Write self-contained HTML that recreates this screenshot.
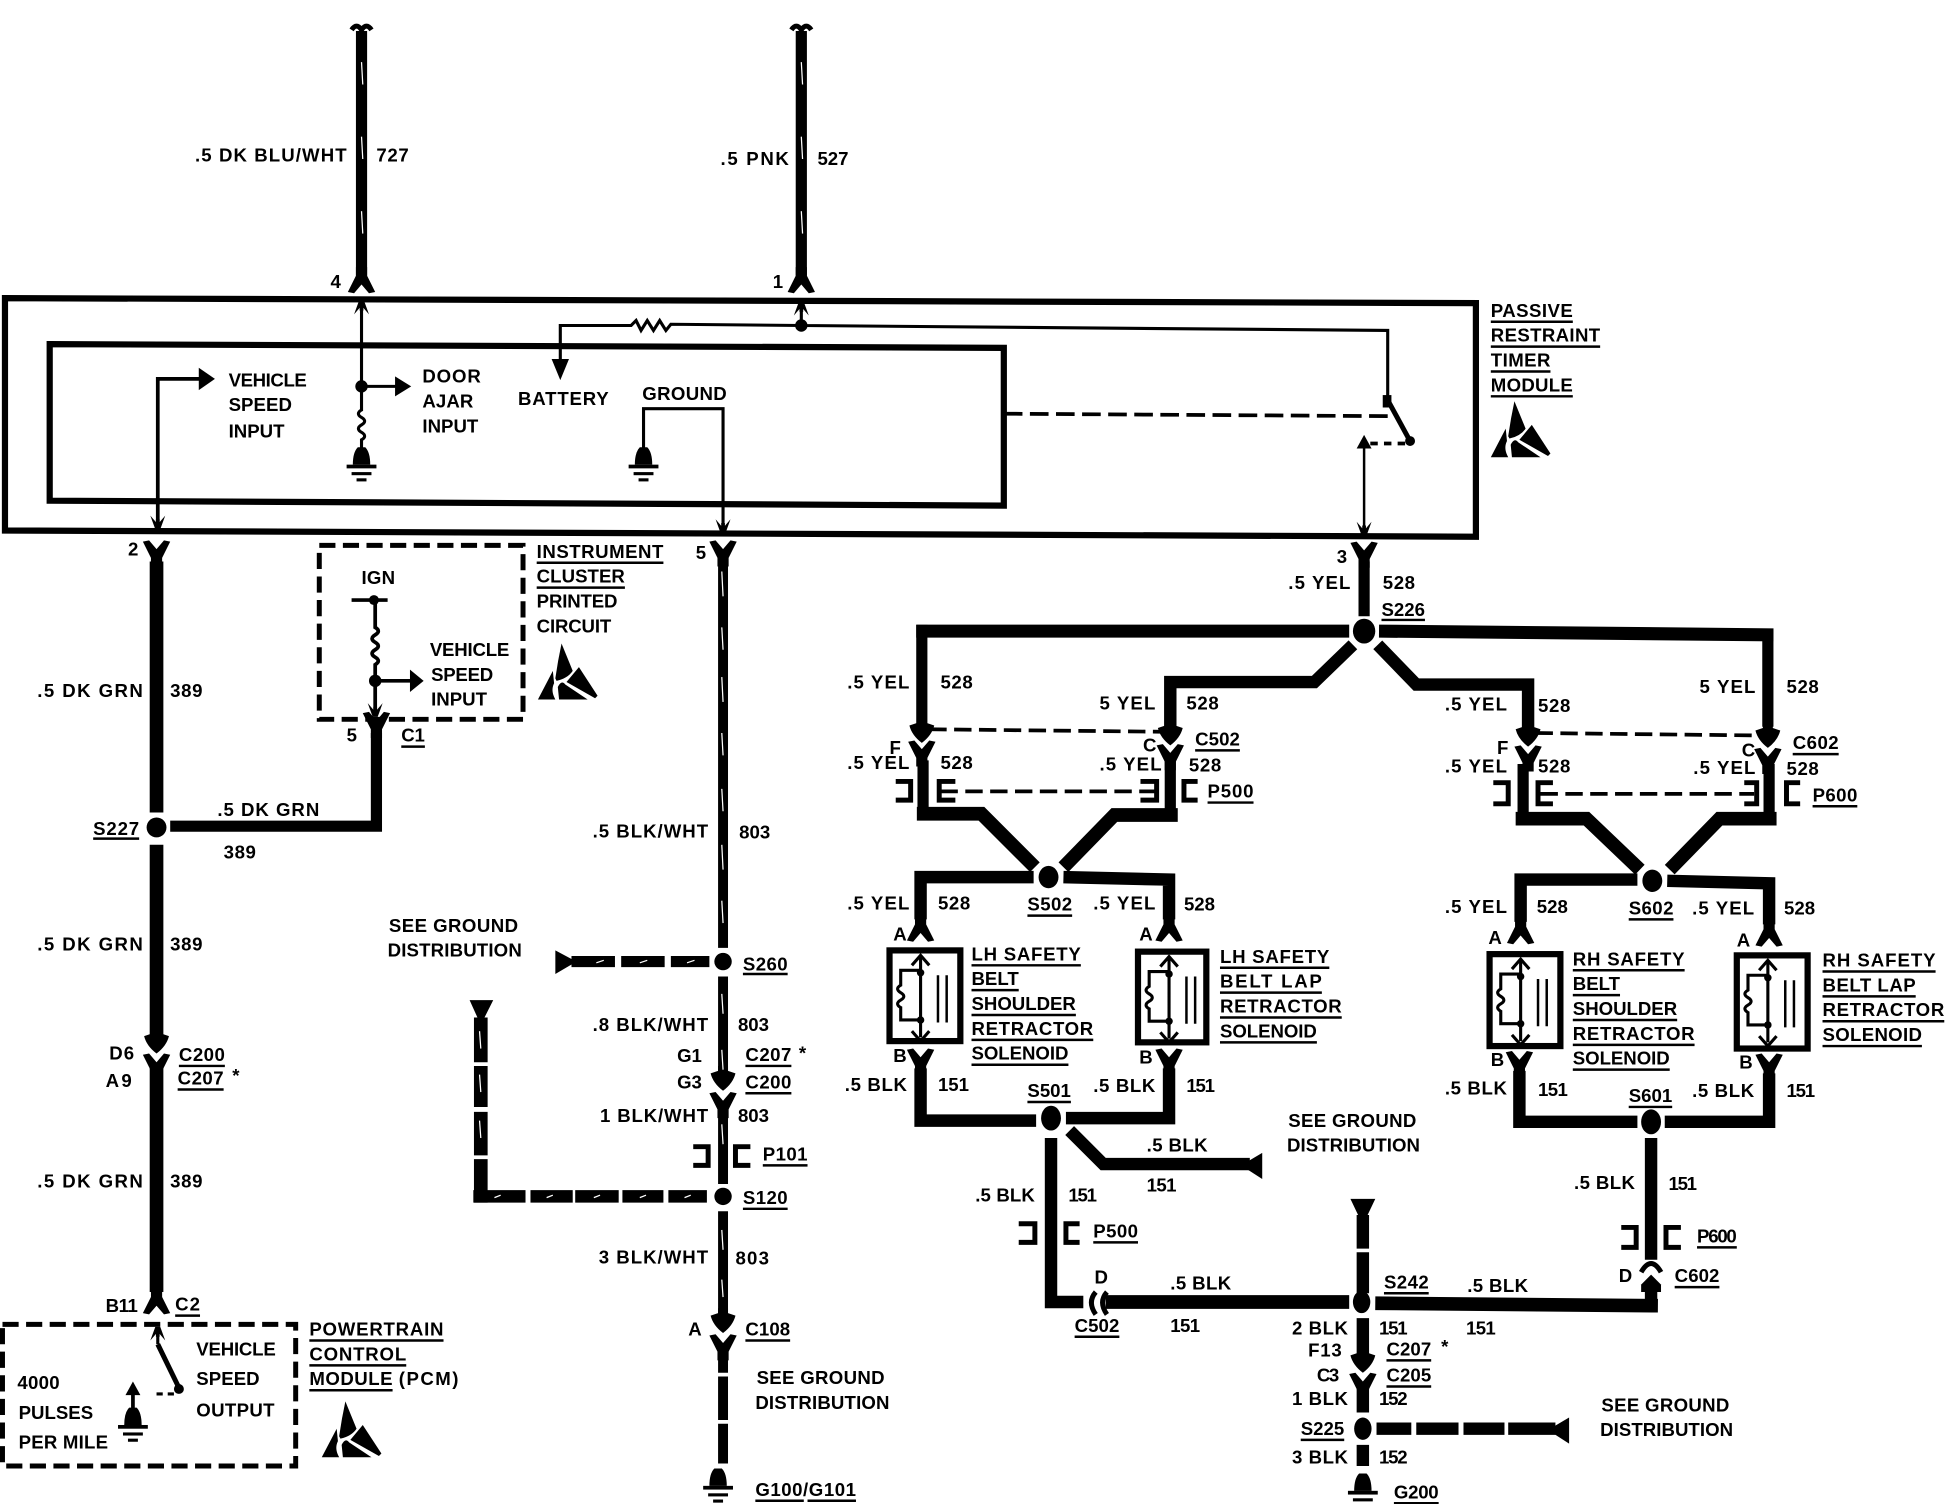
<!DOCTYPE html>
<html><head><meta charset="utf-8"><title>Passive Restraint Wiring Diagram</title>
<style>
html,body{margin:0;padding:0;background:#fff}
svg{display:block}
text{font-family:"Liberation Sans",sans-serif;font-size:15px;font-weight:bold;fill:#000}
.w{fill:none;stroke:#000;stroke-linejoin:miter}
</style></head><body>
<svg width="1948" height="1504" viewBox="0 0 1568 1210.6" preserveAspectRatio="none" xmlns="http://www.w3.org/2000/svg">
<defs>
<path id="yu" d="M-11,0 L-6,-1 L0,6 L6,-1 L11,0 L4.5,13 L4.5,20 L-4.5,20 L-4.5,13Z"/>
<path id="yd" d="M-11,0 L-6,1 L0,-6 L6,1 L11,0 L4.5,-13 L4.5,-20 L-4.5,-20 L-4.5,-13Z"/>
<path id="ah" d="M-4,-12 L4,-12 L4,-8 L10,-6 Q8,2 0,8 Q-8,2 -10,-6 L-4,-8Z"/>
<path id="tad" d="M-6,-11 L0,-4 L6,-11 L2,0 L-2,0Z M-1.5,-8 H1.5 V-2 H-1.5Z"/>
<path id="tau" d="M-6,11 L0,4 L6,11 L2,0 L-2,0Z M-1.5,8 H1.5 V2 H-1.5Z"/>
<g id="gnd"><path d="M-3,0 Q-7,4 -7,14 H7 Q7,4 3,0Z"/><rect x="-12" y="14" width="24" height="3"/><rect x="-8" y="20" width="16" height="2.5"/><rect x="-4" y="25" width="8" height="2.5"/></g>
<g id="esd"><path d="M19,0 L28,22 Q24,28 15,30 L14,28 Q16,14 19,0Z"/><path d="M0,45 L12,22 L13,32 Q10,38 14,45Z"/><path d="M17,45 L16,35 Q19,29 22,33 L40,45Z"/><path d="M23,31 L33,19 L48,42 L46,44Z"/></g>
<g id="sol"><path class="w" stroke-width="2.5" d="M26,5 V70 M26,16 H10 V28 q-5,3 0,6 q5,3 0,6 q-5,3 0,6 V56 H26"/><path class="w" stroke-width="2" d="M40,20 V58 M47,20 V58"/><path class="w" stroke-width="2.5" d="M19,12 L26,4 L33,12 M19,65 L26,73 L33,65"/><circle cx="26" cy="18" r="3"/><circle cx="26" cy="56" r="3"/></g>
</defs>

<!-- Outer and inner module boxes -->
<path class="w" stroke-width="5" d="M4,240 L1188,244 L1188,432 L4,427Z"/>
<path class="w" stroke-width="5" d="M40,277 L808,280 L808,407 L40,403Z"/>

<!-- Top wires -->
<path class="w" stroke-width="9" d="M291,25 V222 M645,25 V222"/>
<path class="w" stroke-width="4" d="M283,24 q4,-6 8,0 q4,-6 8,0 M637,24 q4,-6 8,0 q4,-6 8,0"/>
<use href="#yd" x="291" y="235"/><use href="#yd" x="645" y="235"/>

<!-- Thin internal circuit -->
<path class="w" stroke-width="2.5" d="M291,242 V330 q-5,3 0,6 q5,3 0,6 q-5,3 0,6 q5,3 0,6 V365 M291,311 H320"/>
<use href="#tau" x="291" y="252" transform="translate(0,-10)"/>
<circle cx="291" cy="311" r="5"/><path d="M318,303 L331,311 L318,319Z"/>
<use href="#gnd" x="291" y="360"/>
<path class="w" stroke-width="2.5" d="M645,245 V262 M451,300 V262 H508 l4,-4 l4,8 l5,-8 l5,8 l5,-8 l5,8 l4,-5 L645,262 L1117,266 V322"/>
<use href="#tau" x="645" y="243" transform="translate(0,0)"/>
<circle cx="645" cy="262" r="5"/><path d="M444,289 L458,289 L451,306Z"/>
<path class="w" stroke-width="3" d="M127,422 V305 H165"/>
<path d="M160,296 L173,305 L160,314Z"/><use href="#tad" x="127" y="426"/>
<path class="w" stroke-width="2.5" d="M518,365 V329 H582 V425"/>
<use href="#gnd" x="518" y="360"/><use href="#tad" x="582" y="429"/>
<path class="w" stroke-width="3" stroke-dasharray="15 6" d="M808,333 L1122,335"/>
<path class="w" stroke-width="4" d="M1117,322 L1135,355"/>
<path d="M1113,318 h7 v10 h-7Z"/><circle cx="1135" cy="355" r="4"/>
<path class="w" stroke-width="3" stroke-dasharray="6 5" d="M1131,357 H1101"/>
<path d="M1098,350 L1104,361 H1092Z"/>
<path class="w" stroke-width="2" d="M1098,358 V428"/><use href="#tad" x="1098" y="431"/>

<!-- 389 wire -->
<use href="#yu" x="126" y="436"/>
<path class="w" stroke-width="11" d="M126,452 V654 M126,680 V835 M126,858 V1040"/>
<use href="#ah" x="126" y="840"/><use href="#yu" x="126" y="849"/>
<use href="#yd" x="126" y="1057"/>
<circle cx="126" cy="666" r="8"/>
<path class="w" stroke-width="9" d="M137,665 H303 V590"/><use href="#yu" x="303" y="574"/>

<!-- Instrument cluster -->
<path class="w" stroke-width="4" stroke-dasharray="13 6" d="M257,439 H421 V579 H257Z"/>
<path class="w" stroke-width="3" d="M283,483 H312 M302,483 V505 q5,3 0,6 q-5,3 0,6 q5,3 0,6 q-5,3 0,6 q5,3 0,6 V572 M302,548 H332"/>
<circle cx="301" cy="483" r="4"/><circle cx="302" cy="548" r="5"/>
<path d="M330,539 L341,548 L330,557Z"/><use href="#tad" x="302" y="577"/>

<!-- 803 wire -->
<use href="#yu" x="582" y="436"/>
<path class="w" stroke-width="8" d="M582,452 V763 M582,786 V868 M582,890 V953 M582,975 V1058 M582,1085 V1105 M582,1108 V1143 M582,1146 V1178"/>
<use href="#ah" x="582" y="870"/><use href="#yu" x="582" y="880"/>
<use href="#ah" x="582" y="1065"/><use href="#yu" x="582" y="1075"/>
<circle cx="582" cy="774" r="7"/><circle cx="582" cy="963" r="7"/>
<use href="#gnd" x="578" y="1182"/>
<path class="w" stroke-width="1" style="stroke:#fff" d="M581,460 l1,20 M581,505 l1,18 M581,545 l1,20 M581,590 l1,18 M581,635 l1,18 M581,680 l1,20 M581,725 l1,18 M581,800 l1,16 M581,845 l1,16 M581,905 l1,16 M581,990 l1,16 M581,1030 l1,14 M291,50 l1,18 M291,110 l1,18 M291,170 l1,18 M645,50 l1,18 M645,110 l1,18 M645,170 l1,18"/>

<!-- Ground distribution dashes -->
<path d="M447,765 L447,784 L464,774Z"/>
<path class="w" stroke-width="9" d="M460,774 H495 M500,774 H535 M540,774 H571"/>
<path d="M378,805 L397,805 L387,825Z"/>
<path class="w" stroke-width="11" d="M387,819 V855 M387,858 V891 M387,895 V930 M387,933 V968"/>
<path class="w" stroke-width="10" d="M381,963 H423 M427,963 H461 M463,963 H498 M501,963 H534 M538,963 H569"/>
<path class="w" stroke-width="1" style="stroke:#fff" d="M386,830 l1,14 M386,865 l1,14 M386,902 l1,14 M398,964 l5,-2 M440,964 l5,-2 M478,964 l5,-2 M515,964 l5,-2 M551,964 l5,-2 M480,775 l6,-2 M515,775 l6,-2 M553,775 l6,-2"/>
<path class="w" stroke-width="4" d="M558,923 H570 V938 H558 M604,923 H592 V938 H604"/>

<!-- PCM -->
<path class="w" stroke-width="4" stroke-dasharray="13 6" d="M2,1066 H238 V1180 H2Z"/>
<use href="#tau" x="127" y="1068"/>
<path class="w" stroke-width="2.5" d="M127,1072 V1082"/>
<path class="w" stroke-width="4" d="M127,1082 L144,1117"/>
<circle cx="144" cy="1118" r="4"/>
<path class="w" stroke-width="2.5" stroke-dasharray="5 4" d="M140,1122 H122"/>
<path d="M107,1112 L113,1123 H101Z"/><path class="w" stroke-width="3" d="M107,1120 V1135"/>
<use href="#gnd" x="107" y="1133"/>

<!-- 528 yellow wires -->
<use href="#yu" x="1098" y="437"/>
<path class="w" stroke-width="9" d="M1098,452 V496"/>
<path class="w" stroke-width="10.5" d="M1086,508 H737.5"/>
<path class="w" stroke-width="9" d="M742,503 V585"/>
<path class="w" stroke-width="10.5" d="M1110,508 L1427.5,511"/>
<path class="w" stroke-width="9" d="M1423,506 V585"/>
<ellipse cx="1098" cy="508" rx="9" ry="10"/>
<path class="w" stroke-width="10" d="M1089,519 L1058,549 H942 V585"/>
<path class="w" stroke-width="10" d="M1109,519 L1140,551 H1230 V587"/>
<path class="w" stroke-width="3" stroke-dasharray="14 6" d="M748,587 L935,589 M1236,590 L1417,592"/>
<use href="#ah" x="742" y="590"/><use href="#yu" x="742" y="597"/>
<use href="#ah" x="942" y="592"/><use href="#yu" x="942" y="600"/>
<use href="#ah" x="1230" y="593"/><use href="#yu" x="1230" y="601"/>
<use href="#ah" x="1423" y="594"/><use href="#yu" x="1423" y="603"/>
<path class="w" stroke-width="9" d="M743,612 V655 M942,612 V655 M1226,615 V660 M1424,615 V660"/>
<path class="w" stroke-width="11" d="M738,655 H790 L833,698 M948,656 H897 L856,698"/>
<path class="w" stroke-width="11" d="M1220,659 H1277 L1320,700 M1430,659 H1384 L1344,700"/>
<!-- P500 / P600 upper -->
<path class="w" stroke-width="4" d="M721,629 H733 V644 H721 M769,629 H756 V644 H769 M918,629 H931 V644 H918 M964,629 H953 V644 H964"/>
<path class="w" stroke-width="3" stroke-dasharray="14 6" d="M757,637 H930"/>
<path class="w" stroke-width="4" d="M1202,630 H1214 V647 H1202 M1250,630 H1238 V647 H1250 M1404,630 H1414 V647 H1404 M1449,630 H1438 V647 H1449"/>
<path class="w" stroke-width="3" stroke-dasharray="14 6" d="M1240,639 H1412"/>
<!-- S502/S602 -->
<ellipse cx="844" cy="706" rx="8" ry="9"/><ellipse cx="1330" cy="709" rx="8" ry="9"/>
<path class="w" stroke-width="10" d="M832,706 H741 V740 M856,706 L941,708 V740"/>
<path class="w" stroke-width="10" d="M1318,708 H1224 V742 M1342,709 L1424,711 V744"/>
<use href="#yd" x="741" y="757"/><use href="#yd" x="941" y="757"/><use href="#yd" x="1224" y="759"/><use href="#yd" x="1424" y="761"/>
<!-- Solenoids -->
<g fill="none" stroke="#000" stroke-width="5"><rect x="716" y="765" width="57" height="73"/><rect x="916" y="766" width="55" height="73"/><rect x="1199" y="768" width="57" height="74"/><rect x="1398" y="769" width="57" height="75"/></g>
<use href="#sol" x="715" y="765"/><use href="#sol" x="915" y="766"/><use href="#sol" x="1198" y="768"/><use href="#sol" x="1397" y="769"/>
<use href="#yu" x="741" y="845"/><use href="#yu" x="941" y="845"/><use href="#yu" x="1223" y="847"/><use href="#yu" x="1424" y="849"/>
<!-- 151 wires -->
<path class="w" stroke-width="10" d="M741,860 V902 H834 M941,860 V900 H858"/>
<path class="w" stroke-width="10" d="M1223,862 V903 H1318 M1424,864 V903 H1340"/>
<ellipse cx="846" cy="900" rx="8" ry="10"/><ellipse cx="1329" cy="903" rx="8" ry="10"/>
<path class="w" stroke-width="10" d="M846,916 V1048 H872"/>
<path class="w" stroke-width="10" d="M861,910 L888,937 H1006"/>
<path d="M999,938 L1016,928 V949Z"/>
<path class="w" stroke-width="10" d="M1329,916 V1014"/>
<path class="w" stroke-width="4" d="M1321,1024 Q1329,1010 1337,1024"/>
<path d="M1329,1026 L1337,1034 V1040 H1321 V1034Z"/>
<path class="w" stroke-width="11" d="M890,1048 H1086 M1107,1049 L1334.5,1051"/>
<path class="w" stroke-width="10" d="M1329,1034 V1056"/>
<path class="w" stroke-width="4" d="M882,1040 Q875,1048 882,1058 M891,1040 Q884,1048 891,1058"/>
<path class="w" stroke-width="4" d="M820,985 H833 V1000 H820 M869,985 H858 V1000 H869 M1305,988 H1317 V1004 H1305 M1353,988 H1341 V1004 H1353"/>
<!-- Center vertical -->
<path d="M1087,965 L1107,965 L1097,986Z"/>
<path class="w" stroke-width="10" d="M1097,978 V1005 M1097,1008 V1041 M1097,1061 V1092 M1097,1115 V1137 M1097,1163 V1180"/>
<ellipse cx="1096" cy="1048" rx="7" ry="9"/><ellipse cx="1097" cy="1150" rx="7" ry="9"/>
<use href="#ah" x="1097" y="1097"/><use href="#yu" x="1097" y="1106"/>
<path class="w" stroke-width="10" d="M1108,1150 H1136 M1140,1150 H1174 M1178,1150 H1211 M1214,1150 H1252"/>
<path d="M1246,1151 L1263,1141 V1162Z"/>
<use href="#gnd" x="1097" y="1186"/>
<!-- ESD icons -->
<use href="#esd" x="1200" y="323"/><use href="#esd" x="433" y="518"/><use href="#esd" x="259" y="1128"/>

<!-- Underlines -->
<path class="w" stroke-width="2" d="M1200,259H1266 M1200,279H1288 M1200,299H1248 M1200,319H1266 M432,453H534 M432,473H503 M323,601H342 M1112,499H1147 M962,604H998 M1443,607H1480 M972,646H1009 M1459,649H1495 M75,675H112 M827,737H863 M1311,740H1347 M782,777H870 M782,797H820 M782,817H866 M782,837H880 M782,857H860 M982,779H1070 M982,799H1064 M982,819H1080 M982,839H1060 M1266,781H1356 M1266,801H1304 M1266,821H1350 M1266,841H1364 M1266,861H1344 M1467,782H1558 M1467,802H1542 M1467,822H1565 M1467,842H1547 M598,784H634 M600,858H637 M600,880H637 M614,938H650 M598,973H634 M144,858H181 M143,877H180 M141,1059H161 M600,1079H636 M249,1079H357 M249,1099H327 M249,1119H316 M608,1208H647 M650,1208H689 M827,887H862 M1311,891H1346 M880,1000H916 M1366,1004H1398 M1348,1036H1384 M865,1076H901 M1114,1041H1150 M1116,1095H1152 M1116,1116H1152 M1047,1159H1082 M1122,1210H1158"/>

<!-- Labels -->
<text x="157" y="130" textLength="122">.5 DK BLU/WHT</text><text x="303" y="130" textLength="26">727</text>
<text x="266" y="232">4</text><text x="622" y="232">1</text>
<text x="580" y="133" textLength="55">.5 PNK</text><text x="658" y="133" textLength="25">527</text>
<text x="1200" y="255" textLength="66">PASSIVE</text><text x="1200" y="275" textLength="88">RESTRAINT</text><text x="1200" y="295" textLength="48">TIMER</text><text x="1200" y="315" textLength="66">MODULE</text>
<text x="184" y="311" textLength="63">VEHICLE</text><text x="184" y="331" textLength="51">SPEED</text><text x="184" y="352" textLength="45">INPUT</text>
<text x="340" y="308" textLength="47">DOOR</text><text x="340" y="328" textLength="41">AJAR</text><text x="340" y="348" textLength="45">INPUT</text>
<text x="417" y="326" textLength="73">BATTERY</text><text x="517" y="322" textLength="68">GROUND</text>
<text x="103" y="447">2</text><text x="560" y="450">5</text>
<text x="291" y="470" textLength="27">IGN</text>
<text x="432" y="449" textLength="102">INSTRUMENT</text><text x="432" y="469" textLength="71">CLUSTER</text><text x="432" y="489" textLength="65">PRINTED</text><text x="432" y="509" textLength="60">CIRCUIT</text>
<text x="346" y="528" textLength="64">VEHICLE</text><text x="347" y="548" textLength="50">SPEED</text><text x="347" y="568" textLength="45">INPUT</text>
<text x="279" y="597">5</text><text x="323" y="597" textLength="19">C1</text>
<text x="1076" y="453">3</text><text x="1037" y="474" textLength="50">.5 YEL</text><text x="1113" y="474" textLength="26">528</text><text x="1112" y="496" textLength="35">S226</text>
<text x="30" y="561" textLength="85">.5 DK GRN</text><text x="137" y="561" textLength="26">389</text>
<text x="682" y="554" textLength="50">.5 YEL</text><text x="757" y="554" textLength="26">528</text>
<text x="885" y="571" textLength="45">5 YEL</text><text x="955" y="571" textLength="26">528</text>
<text x="1163" y="572" textLength="50">.5 YEL</text><text x="1238" y="573" textLength="26">528</text>
<text x="1368" y="558" textLength="45">5 YEL</text><text x="1438" y="558" textLength="26">528</text>
<text x="716" y="607">F</text><text x="920" y="605">C</text><text x="962" y="600" textLength="36">C502</text>
<text x="1205" y="607">F</text><text x="1402" y="609">C</text><text x="1443" y="603" textLength="37">C602</text>
<text x="682" y="619" textLength="50">.5 YEL</text><text x="757" y="619" textLength="26">528</text>
<text x="885" y="620" textLength="50">.5 YEL</text><text x="957" y="621" textLength="26">528</text>
<text x="1163" y="622" textLength="50">.5 YEL</text><text x="1238" y="622" textLength="26">528</text>
<text x="1363" y="623" textLength="50">.5 YEL</text><text x="1438" y="624" textLength="26">528</text>
<text x="972" y="642" textLength="37">P500</text><text x="1459" y="645" textLength="36">P600</text>
<text x="75" y="672" textLength="37">S227</text><text x="175" y="657" textLength="82">.5 DK GRN</text><text x="180" y="691" textLength="26">389</text>
<text x="477" y="674" textLength="93">.5 BLK/WHT</text><text x="595" y="675" textLength="25">803</text>
<text x="682" y="732" textLength="50">.5 YEL</text><text x="755" y="732" textLength="26">528</text><text x="827" y="733" textLength="36">S502</text><text x="880" y="732" textLength="50">.5 YEL</text><text x="953" y="733" textLength="25">528</text>
<text x="1163" y="735" textLength="50">.5 YEL</text><text x="1237" y="735" textLength="25">528</text><text x="1311" y="736" textLength="36">S602</text><text x="1362" y="736" textLength="50">.5 YEL</text><text x="1436" y="736" textLength="25">528</text>
<text x="719" y="757">A</text><text x="917" y="757">A</text><text x="1198" y="760">A</text><text x="1398" y="762">A</text>
<text x="782" y="773" textLength="88">LH SAFETY</text><text x="782" y="793" textLength="38">BELT</text><text x="782" y="813" textLength="84">SHOULDER</text><text x="782" y="833" textLength="98">RETRACTOR</text><text x="782" y="853" textLength="78">SOLENOID</text>
<text x="982" y="775" textLength="88">LH SAFETY</text><text x="982" y="795" textLength="82">BELT LAP</text><text x="982" y="815" textLength="98">RETRACTOR</text><text x="982" y="835" textLength="78">SOLENOID</text>
<text x="1266" y="777" textLength="90">RH SAFETY</text><text x="1266" y="797" textLength="38">BELT</text><text x="1266" y="817" textLength="84">SHOULDER</text><text x="1266" y="837" textLength="98">RETRACTOR</text><text x="1266" y="857" textLength="78">SOLENOID</text>
<text x="1467" y="778" textLength="91">RH SAFETY</text><text x="1467" y="798" textLength="75">BELT LAP</text><text x="1467" y="818" textLength="98">RETRACTOR</text><text x="1467" y="838" textLength="80">SOLENOID</text>
<text x="313" y="750" textLength="104">SEE GROUND</text><text x="312" y="770" textLength="108">DISTRIBUTION</text><text x="598" y="781" textLength="36">S260</text>
<text x="30" y="765" textLength="85">.5 DK GRN</text><text x="137" y="765" textLength="26">389</text>
<text x="477" y="830" textLength="93">.8 BLK/WHT</text><text x="594" y="830" textLength="25">803</text>
<text x="545" y="855" textLength="20">G1</text><text x="600" y="854" textLength="37">C207</text><text x="643" y="853">*</text>
<text x="545" y="876" textLength="20">G3</text><text x="600" y="876" textLength="37">C200</text>
<text x="483" y="903" textLength="87">1 BLK/WHT</text><text x="594" y="903" textLength="25">803</text>
<text x="614" y="934" textLength="36">P101</text><text x="598" y="969" textLength="36">S120</text>
<text x="88" y="853" textLength="20">D6</text><text x="85" y="875" textLength="21">A9</text><text x="144" y="854" textLength="37">C200</text><text x="143" y="873" textLength="37">C207</text><text x="187" y="871">*</text>
<text x="30" y="956" textLength="85">.5 DK GRN</text><text x="137" y="956" textLength="26">389</text>
<text x="482" y="1017" textLength="88">3 BLK/WHT</text><text x="592" y="1018" textLength="27">803</text>
<text x="85" y="1056" textLength="26">B11</text><text x="141" y="1055" textLength="20">C2</text>
<text x="554" y="1075">A</text><text x="600" y="1075" textLength="36">C108</text>
<text x="249" y="1075" textLength="108">POWERTRAIN</text><text x="249" y="1095" textLength="78">CONTROL</text><text x="249" y="1115" textLength="67">MODULE</text><text x="321" y="1115" textLength="48">(PCM)</text>
<text x="158" y="1091" textLength="64">VEHICLE</text><text x="158" y="1115" textLength="51">SPEED</text><text x="158" y="1140" textLength="63">OUTPUT</text>
<text x="14" y="1118" textLength="34">4000</text><text x="15" y="1142" textLength="60">PULSES</text><text x="15" y="1166" textLength="72">PER MILE</text>
<text x="609" y="1114" textLength="103">SEE GROUND</text><text x="608" y="1134" textLength="108">DISTRIBUTION</text><text x="608" y="1204" textLength="81">G100/G101</text>
<text x="680" y="878" textLength="50">.5 BLK</text><text x="755" y="878" textLength="25">151</text><text x="827" y="883" textLength="35">S501</text><text x="880" y="879" textLength="50">.5 BLK</text><text x="955" y="879" textLength="23">151</text>
<text x="1163" y="881" textLength="50">.5 BLK</text><text x="1238" y="882" textLength="24">151</text><text x="1311" y="887" textLength="35">S601</text><text x="1362" y="883" textLength="50">.5 BLK</text><text x="1438" y="883" textLength="23">151</text>
<text x="719" y="855">B</text><text x="917" y="856">B</text><text x="1200" y="858">B</text><text x="1400" y="860">B</text>
<text x="1037" y="907" textLength="103">SEE GROUND</text><text x="1036" y="927" textLength="107">DISTRIBUTION</text>
<text x="923" y="927" textLength="49">.5 BLK</text><text x="923" y="959" textLength="24">151</text>
<text x="785" y="967" textLength="48">.5 BLK</text><text x="860" y="967" textLength="23">151</text><text x="880" y="996" textLength="36">P500</text>
<text x="1267" y="957" textLength="49">.5 BLK</text><text x="1343" y="958" textLength="23">151</text><text x="1366" y="1000" textLength="32">P600</text>
<text x="1303" y="1032">D</text><text x="1348" y="1032" textLength="36">C602</text>
<text x="881" y="1033">D</text><text x="942" y="1038" textLength="49">.5 BLK</text><text x="865" y="1072" textLength="36">C502</text><text x="942" y="1072" textLength="24">151</text>
<text x="1114" y="1037" textLength="36">S242</text><text x="1181" y="1040" textLength="49">.5 BLK</text>
<text x="1040" y="1074" textLength="45">2 BLK</text><text x="1110" y="1074" textLength="23">151</text><text x="1180" y="1074" textLength="24">151</text>
<text x="1053" y="1092" textLength="27">F13</text><text x="1116" y="1091" textLength="36">C207</text><text x="1160" y="1089">*</text>
<text x="1060" y="1112" textLength="18">C3</text><text x="1116" y="1112" textLength="36">C205</text>
<text x="1040" y="1131" textLength="45">1 BLK</text><text x="1110" y="1131" textLength="23">152</text>
<text x="1047" y="1155" textLength="35">S225</text>
<text x="1040" y="1178" textLength="45">3 BLK</text><text x="1110" y="1178" textLength="23">152</text>
<text x="1122" y="1206" textLength="36">G200</text>
<text x="1289" y="1136" textLength="103">SEE GROUND</text><text x="1288" y="1156" textLength="107">DISTRIBUTION</text>
</svg>
</body></html>
